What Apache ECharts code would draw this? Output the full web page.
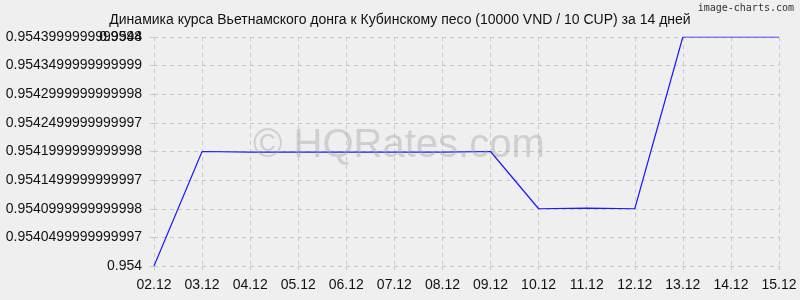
<!DOCTYPE html>
<html><head><meta charset="utf-8">
<script src="https://cdn.jsdelivr.net/npm/echarts@6/dist/echarts.min.js"></script>
<style>html,body{margin:0;padding:0;background:#efefef}#c{width:800px;height:300px}</style>
</head><body><div id="c"></div>
<script>
const categories = ['02.12','03.12','04.12','05.12','06.12','07.12','08.12','09.12','10.12','11.12','12.12','13.12','14.12','15.12'];
const rates = [0.954, 0.95420, 0.954199, 0.954199, 0.954199, 0.954199, 0.954199, 0.95420, 0.95410, 0.954101, 0.95410, 0.9544, 0.9544, 0.9544];
const yTickLabels = ['0.954','0.9540499999999997','0.9540999999999998','0.9541499999999997','0.9541999999999998','0.9542499999999997','0.9542999999999998','0.9543499999999999','0.9543999999999998'];
const yTopExtraLabel = '0.9544';
const titleText = 'Динамика курса Вьетнамского донга к Кубинскому песо (10000 VND / 10 CUP) за 14 дней';

const yMin = 0.954, yMax = 0.9544, yStep = 0.00005;
const font = 'Liberation Sans, Arial, sans-serif';
const chart = echarts.init(document.getElementById('c'));
const dashed = {color:'#c8c8c8', type:[4,4], width:1};
chart.setOption({
  backgroundColor:'#efefef',
  animation:false,
  title:{text:titleText, left:'center', top:8, textStyle:{fontFamily:font, fontSize:14, fontWeight:'normal', color:'#111'}},
  graphic:[
    {type:'text', right:6, top:3, style:{text:'image-charts.com', fontFamily:'DejaVu Sans Mono, monospace', fontSize:10, fill:'#333'}},
    {type:'text', left:253, top:126, z:100, style:{text:'© HQRates.com', fontFamily:font, fontSize:40, fill:'rgba(160,160,160,0.4)'}}
  ],
  grid:{left:154, right:21, top:37, bottom:34},
  xAxis:{type:'category', data:categories, boundaryGap:false,
    axisLine:{show:false},
    axisTick:{show:true, alignWithLabel:true, length:4, lineStyle:dashed},
    axisLabel:{fontFamily:font, fontSize:14, color:'#111', margin:12},
    splitLine:{show:true, lineStyle:dashed}},
  yAxis:[{type:'value', min:yMin, max:yMax, interval:yStep,
    axisLine:{show:false},
    axisTick:{show:true, length:4, lineStyle:dashed},
    axisLabel:{fontFamily:font, fontSize:14, color:'#111', margin:12,
      formatter:(v)=>{const i=Math.round((v-yMin)/yStep); return yTickLabels[i]||'';}},
    splitLine:{show:true, lineStyle:dashed}},
   {type:'value', min:yMin, max:yMax, interval:yStep, position:'left',
    axisLine:{show:false}, axisTick:{show:false}, splitLine:{show:false},
    axisLabel:{fontFamily:font, fontSize:14, color:'#111', margin:12,
      formatter:(v)=>{const i=Math.round((v-yMin)/yStep); return i===8?yTopExtraLabel:'';}}}],
  series:[{type:'line', data:rates, symbol:'none', lineStyle:{color:'#1a1aff', width:1.2}}]
});
</script></body></html>
